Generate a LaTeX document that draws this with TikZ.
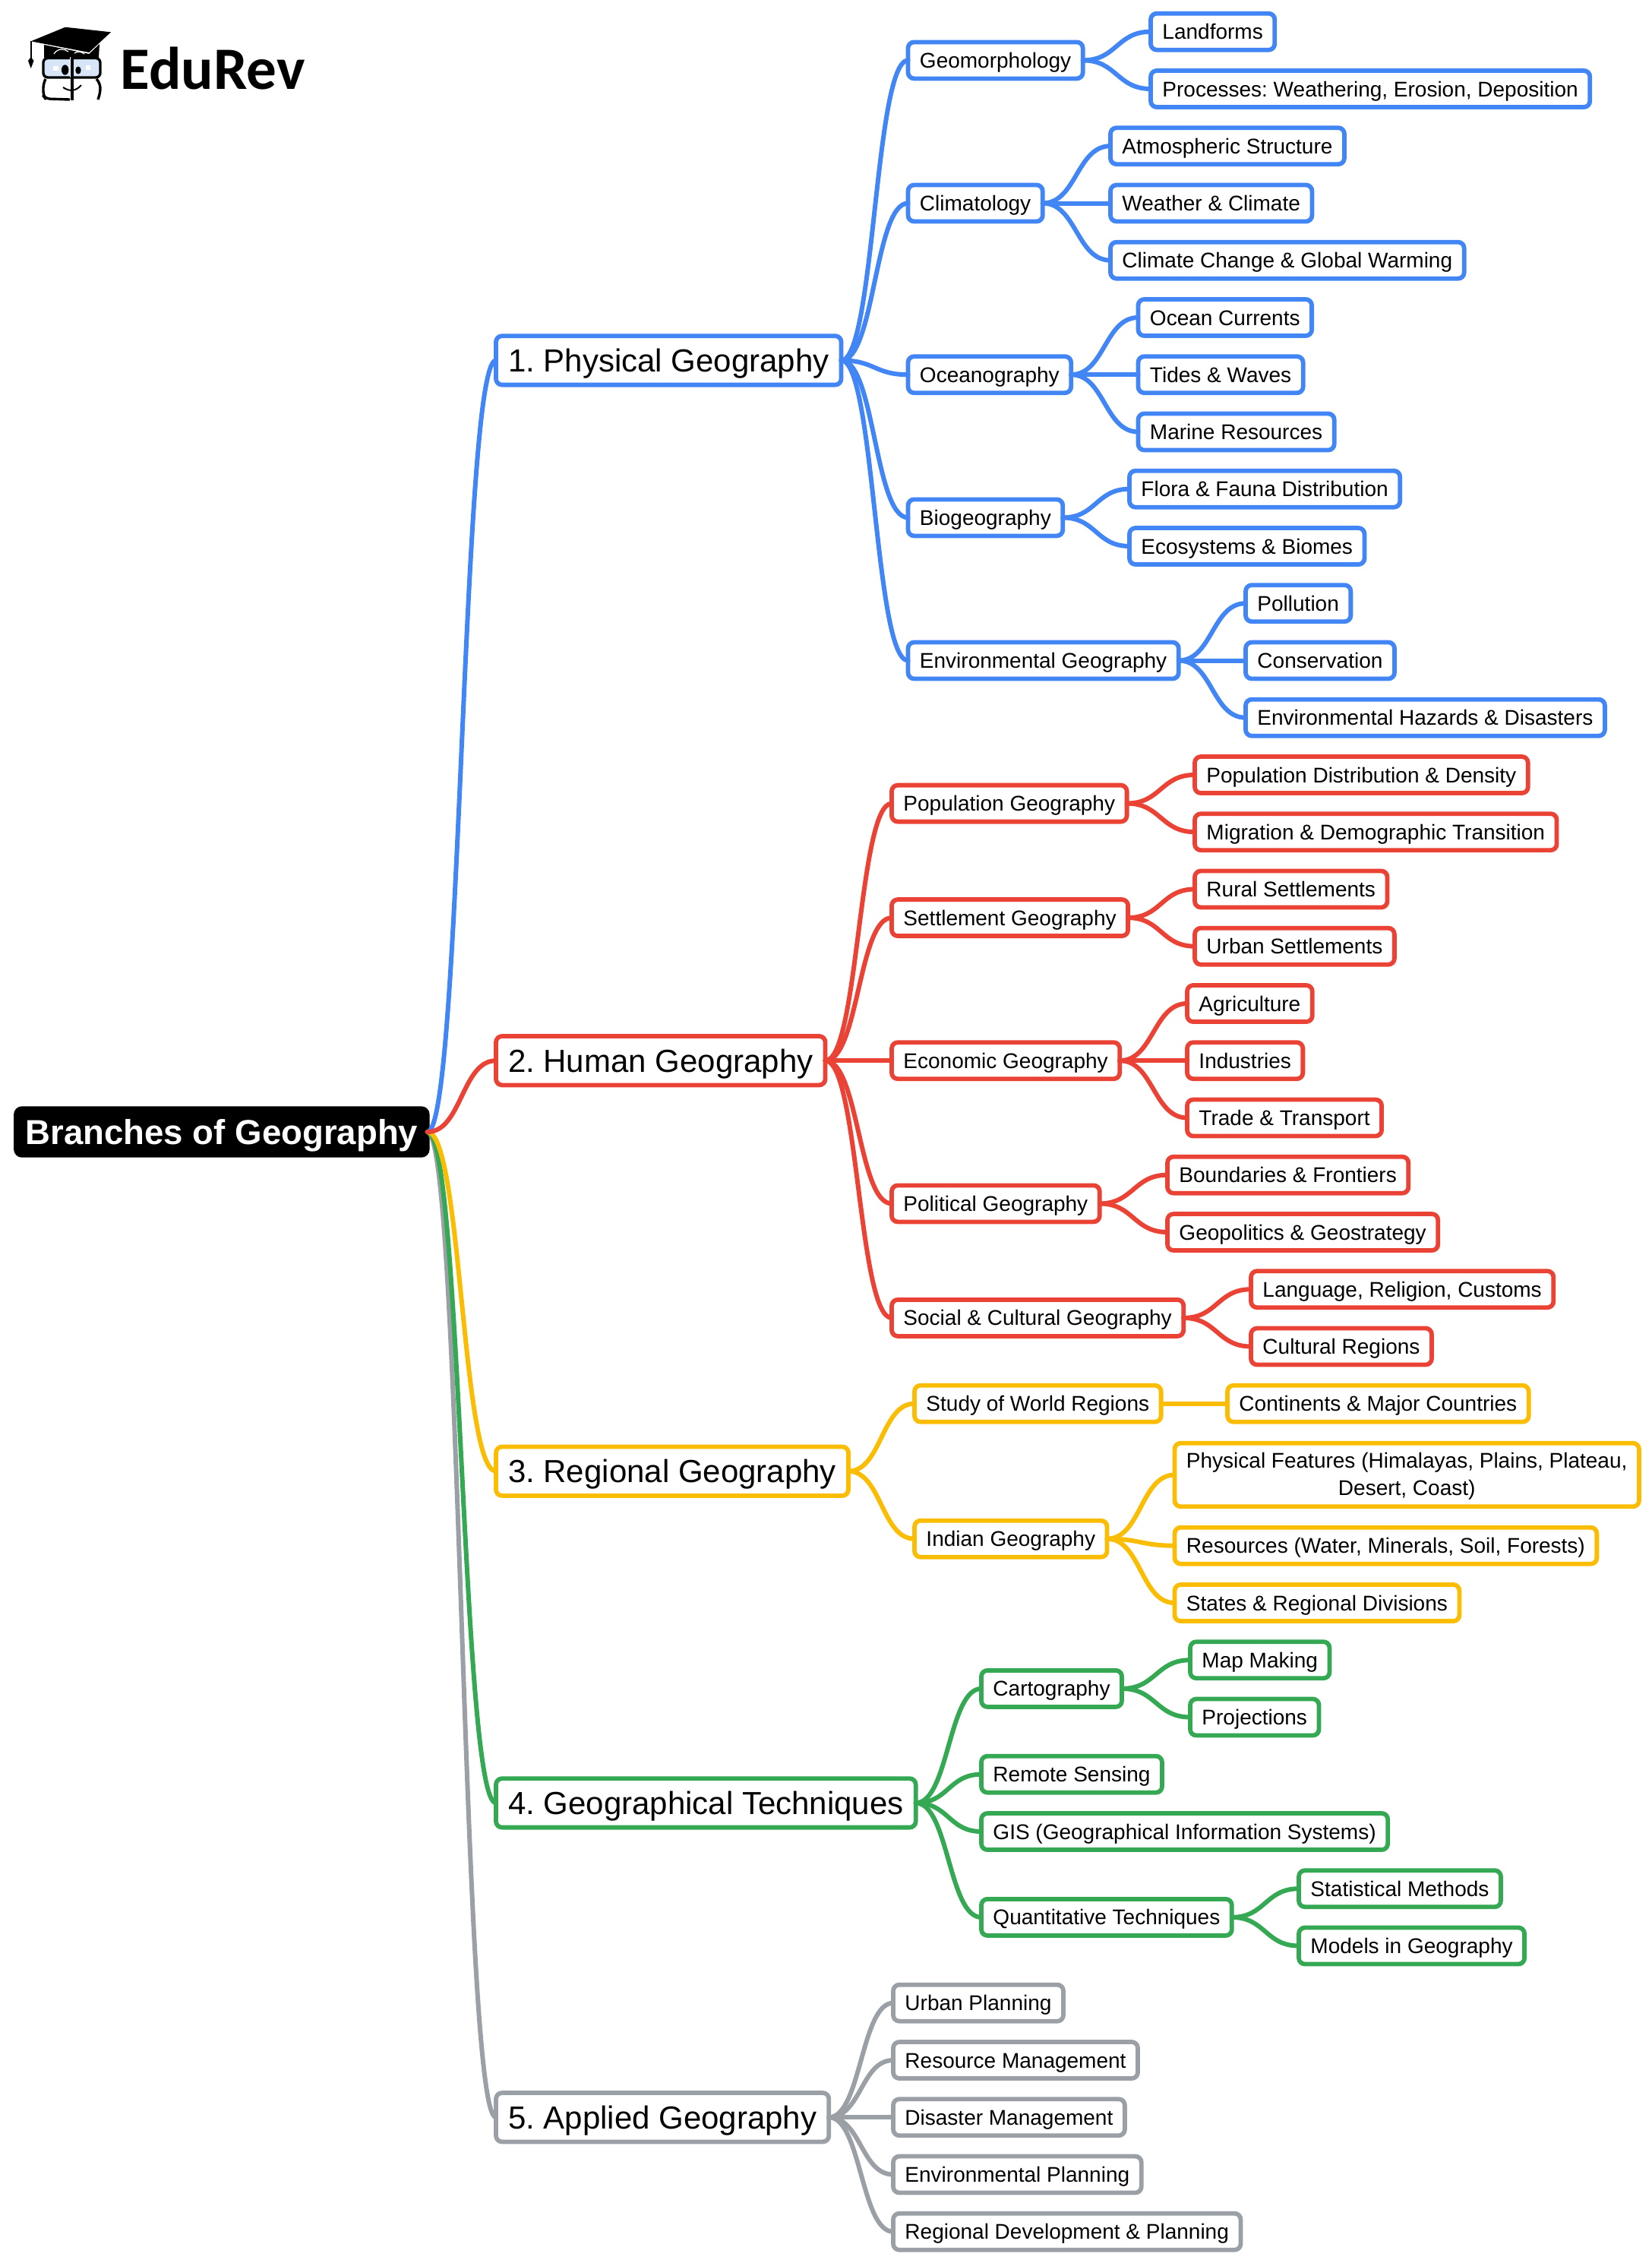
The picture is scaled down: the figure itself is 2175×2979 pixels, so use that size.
\documentclass[tikz,border=0pt]{standalone}
\usepackage{fontspec}
\setmainfont{Liberation Sans}
\newfontfamily\logofont{Carlito}
\usetikzlibrary{calc}

\definecolor{geoblue}{HTML}{4285F4}
\definecolor{geored}{HTML}{EA4335}
\definecolor{geoyellow}{HTML}{FBBC04}
\definecolor{geogreen}{HTML}{34A853}
\definecolor{geogrey}{HTML}{9AA0A6}
\definecolor{logoglass}{HTML}{D6E6F8}

\tikzset{
    x=0.25pt, y=-0.25pt,
    mapbox/.style={draw=#1, fill=white, line width=1.45pt, rounded corners=2pt, anchor=west, outer sep=0pt, minimum height=12pt, inner ysep=0.5pt, inner xsep=3.87pt, font=\fontsize{7}{9.17}\selectfont, align=center},
    leaf/.style={mapbox=#1, text height=6.5pt, text depth=1.5pt},
    main/.style={leaf=#1, inner xsep=4pt, minimum height=16.1pt, font=\fontsize{10.5}{12}\selectfont, text height=9.7pt, text depth=2.2pt},
    rootbox/.style={main=black, fill=black, text=white, inner xsep=3.1pt, minimum height=15.4pt, font=\fontsize{11.4}{13}\selectfont\bfseries, text height=10.6pt, text depth=2.4pt},
    link/.style={draw=#1, line width=1.5pt, line cap=round}
}
\newcommand{\branch}[3]{\draw[link=#1] let \p1=(#2.east), \p2=(#3.west), \n1={0.5*\x1+0.5*\x2} in (\p1) .. controls (\n1,\y1) and (\n1,\y2) .. (\p2);}

\begin{document}
\frenchspacing
\begin{tikzpicture}
    \useasboundingbox (0,0) rectangle (2175,2979);

    % logo
    \fill[black] (40.7,54.3) -- (86,35.7) -- (146,42.3) -- (117.3,69) -- cycle;
    \fill[black] (58,59) -- (58,76) -- (130,76) -- (131,58) -- (117.3,71) -- cycle;
    \draw[white, line width=0.3pt] (71,71) .. controls (76,63) and (85,64) .. (90,68);
    \draw[white, line width=0.3pt] (98,70) .. controls (102,67) and (107,68) .. (111,71);
    \draw[black, line width=0.4pt] (40.7,54.3) -- (40.7,78);
    \fill[black] (40.7,75) -- (37,80) -- (40.7,90) -- (44.5,80) -- cycle;
    \draw[black, fill=logoglass, line width=0.85pt, rounded corners=1.5pt] (57,76.5) rectangle (132,102);
    \draw[black, line width=0.85pt, rounded corners=1.5pt] (60,104) -- (57,110) -- (57,126) -- (60,130) -- (92,131);
    \draw[black, line width=0.85pt, rounded corners=1.5pt] (127,104) -- (132,110) -- (132,122) -- (129,131);
    \draw[black, line width=0.85pt] (95,75) -- (95,132);
    \draw[white, line width=0.3pt] (92.5,75) -- (92.5,102);
    \fill[black] (85.7,92) ellipse (4.7 and 6.7);
    \fill[black] (103,92.5) ellipse (3.7 and 5);
    \fill[white] (70,87) rectangle (77,93);
    \fill[white] (113,86) rectangle (119,92);
    \draw[black, line width=0.5pt] (83,115) .. controls (92,121) and (100,120) .. (107,112);
    \node[anchor=base west, inner sep=0pt, font=\fontsize{19.8}{20}\logofont\bfseries] (logotext) at (158,117) {EduRev};

    % root and main branches
    \node[rootbox] (root) at (21,1490) {Branches of Geography};
    \node[main=geoblue] (phys) at (653,474.4) {1. Physical Geography};
    \node[main=geored] (human) at (653,1396.2) {2. Human Geography};
    \node[main=geoyellow] (regional) at (653,1936.7) {3. Regional Geography};
    \node[main=geogreen] (tech) at (653,2373.4) {4. Geographical Techniques};
    \node[main=geogrey] (applied) at (653,2787.2) {5. Applied Geography};

    % physical
    \node[leaf=geoblue] (geomorph) at (1195.5,79.4) {Geomorphology};
    \node[leaf=geoblue] (landforms) at (1515,41.7) {Landforms};
    \node[leaf=geoblue] (processes) at (1515,117) {Processes: Weathering, Erosion, Deposition};
    \node[leaf=geoblue] (climatology) at (1195.5,267.5) {Climatology};
    \node[leaf=geoblue] (atmosphere) at (1462,192.2) {Atmospheric Structure};
    \node[leaf=geoblue] (weather) at (1462,267.5) {Weather \& Climate};
    \node[leaf=geoblue] (warming) at (1462,342.7) {Climate Change \& Global Warming};
    \node[leaf=geoblue] (ocean) at (1195.5,493.2) {Oceanography};
    \node[leaf=geoblue] (currents) at (1498.5,418) {Ocean Currents};
    \node[leaf=geoblue] (tides) at (1498.5,493.2) {Tides \& Waves};
    \node[leaf=geoblue] (marine) at (1498.5,568.5) {Marine Resources};
    \node[leaf=geoblue] (biogeo) at (1195.5,681.4) {Biogeography};
    \node[leaf=geoblue] (flora) at (1487,643.7) {Flora \& Fauna Distribution};
    \node[leaf=geoblue] (biomes) at (1487,719) {Ecosystems \& Biomes};
    \node[leaf=geoblue] (environ) at (1195.5,869.5) {Environmental Geography};
    \node[leaf=geoblue] (pollution) at (1640,794.2) {Pollution};
    \node[leaf=geoblue] (conservation) at (1640,869.5) {Conservation};
    \node[leaf=geoblue] (hazards) at (1640,944.7) {Environmental Hazards \& Disasters};

    % human
    \node[leaf=geored] (population) at (1174,1057.6) {Population Geography};
    \node[leaf=geored] (density) at (1573,1020) {Population Distribution \& Density};
    \node[leaf=geored] (migration) at (1573,1095.2) {Migration \& Demographic Transition};
    \node[leaf=geored] (settlement) at (1174,1208.1) {Settlement Geography};
    \node[leaf=geored] (rural) at (1573,1170.5) {Rural Settlements};
    \node[leaf=geored] (urban) at (1573,1245.7) {Urban Settlements};
    \node[leaf=geored] (economic) at (1174,1396.2) {Economic Geography};
    \node[leaf=geored] (agriculture) at (1563,1321) {Agriculture};
    \node[leaf=geored] (industries) at (1563,1396.2) {Industries};
    \node[leaf=geored] (trade) at (1563,1471.5) {Trade \& Transport};
    \node[leaf=geored] (political) at (1174,1584.4) {Political Geography};
    \node[leaf=geored] (boundaries) at (1537,1546.7) {Boundaries \& Frontiers};
    \node[leaf=geored] (geopolitics) at (1537,1622) {Geopolitics \& Geostrategy};
    \node[leaf=geored] (social) at (1174,1734.9) {Social \& Cultural Geography};
    \node[leaf=geored] (language) at (1647,1697.2) {Language, Religion, Customs};
    \node[leaf=geored] (cultural) at (1647,1772.5) {Cultural Regions};

    % regional
    \node[leaf=geoyellow] (world) at (1204,1847.7) {Study of World Regions};
    \node[leaf=geoyellow] (continents) at (1616,1847.7) {Continents \& Major Countries};
    \node[leaf=geoyellow] (indian) at (1204,2025.7) {Indian Geography};
    \node[mapbox=geoyellow, minimum height=20.9pt] (features) at (1546.5,1941.5) {\rule{0pt}{5.9pt}Physical Features (Himalayas, Plains, Plateau,\\Desert, Coast)};
    \node[leaf=geoyellow] (resources) at (1546.5,2034.7) {Resources (Water, Minerals, Soil, Forests)};
    \node[leaf=geoyellow] (states) at (1546.5,2110) {States \& Regional Divisions};

    % techniques
    \node[leaf=geogreen] (carto) at (1292,2222.9) {Cartography};
    \node[leaf=geogreen] (mapmaking) at (1567,2185.2) {Map Making};
    \node[leaf=geogreen] (projections) at (1567,2260.5) {Projections};
    \node[leaf=geogreen] (remote) at (1292,2335.7) {Remote Sensing};
    \node[leaf=geogreen] (gis) at (1292,2411) {GIS (Geographical Information Systems)};
    \node[leaf=geogreen] (quant) at (1292,2523.9) {Quantitative Techniques};
    \node[leaf=geogreen] (statistical) at (1710,2486.2) {Statistical Methods};
    \node[leaf=geogreen] (models) at (1710,2561.5) {Models in Geography};

    % applied
    \node[leaf=geogrey] (planning) at (1176,2636.7) {Urban Planning};
    \node[leaf=geogrey] (management) at (1176,2712) {Resource Management};
    \node[leaf=geogrey] (disaster) at (1176,2787.2) {Disaster Management};
    \node[leaf=geogrey] (envplan) at (1176,2862.5) {Environmental Planning};
    \node[leaf=geogrey] (development) at (1176,2937.7) {Regional Development \& Planning};

    % connectors
    \branch{geogrey}{root}{applied}
    \branch{geogreen}{root}{tech}
    \branch{geoyellow}{root}{regional}
    \branch{geoblue}{root}{phys}
    \branch{geored}{root}{human}
    \foreach \a in {geomorph,climatology,ocean,biogeo,environ} {\branch{geoblue}{phys}{\a}}
    \foreach \a in {landforms,processes} {\branch{geoblue}{geomorph}{\a}}
    \foreach \a in {atmosphere,weather,warming} {\branch{geoblue}{climatology}{\a}}
    \foreach \a in {currents,tides,marine} {\branch{geoblue}{ocean}{\a}}
    \foreach \a in {flora,biomes} {\branch{geoblue}{biogeo}{\a}}
    \foreach \a in {pollution,conservation,hazards} {\branch{geoblue}{environ}{\a}}
    \foreach \a in {population,settlement,economic,political,social} {\branch{geored}{human}{\a}}
    \foreach \a in {density,migration} {\branch{geored}{population}{\a}}
    \foreach \a in {rural,urban} {\branch{geored}{settlement}{\a}}
    \foreach \a in {agriculture,industries,trade} {\branch{geored}{economic}{\a}}
    \foreach \a in {boundaries,geopolitics} {\branch{geored}{political}{\a}}
    \foreach \a in {language,cultural} {\branch{geored}{social}{\a}}
    \foreach \a in {world,indian} {\branch{geoyellow}{regional}{\a}}
    \branch{geoyellow}{world}{continents}
    \foreach \a in {features,resources,states} {\branch{geoyellow}{indian}{\a}}
    \foreach \a in {carto,remote,gis,quant} {\branch{geogreen}{tech}{\a}}
    \foreach \a in {mapmaking,projections} {\branch{geogreen}{carto}{\a}}
    \foreach \a in {statistical,models} {\branch{geogreen}{quant}{\a}}
    \foreach \a in {planning,management,disaster,envplan,development} {\branch{geogrey}{applied}{\a}}
\end{tikzpicture}
\end{document}
